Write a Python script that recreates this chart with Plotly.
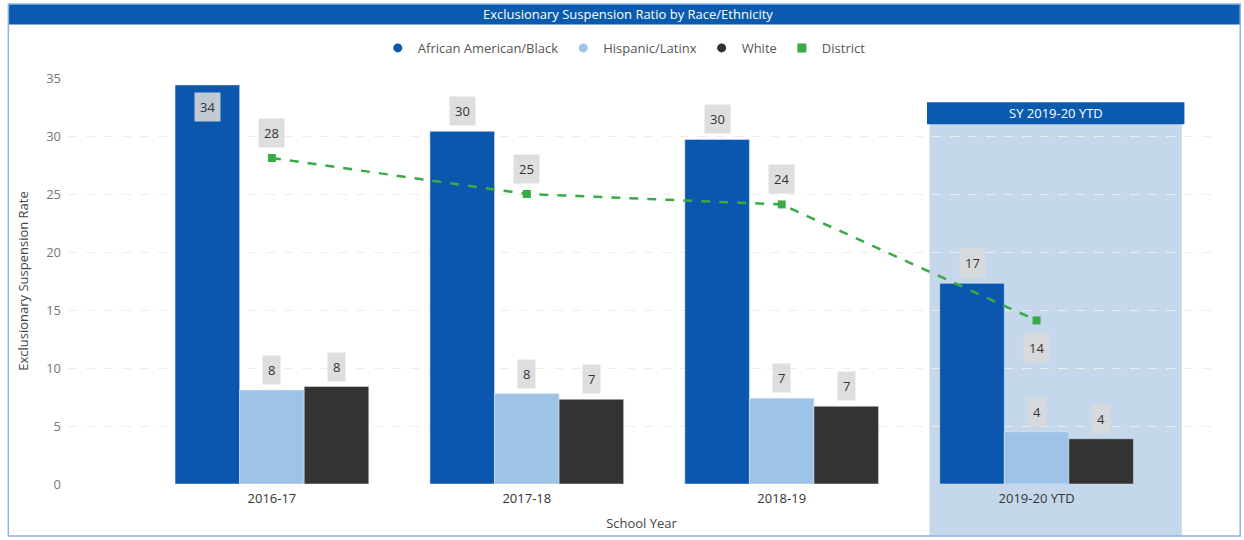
import plotly.graph_objects as go

# data
school_years = ["2016-17", "2017-18", "2018-19", "2019-20 YTD"]
black_rate = [34.4, 30.4, 29.7, 17.3]
hispanic_rate = [8.1, 7.8, 7.4, 4.5]
white_rate = [8.4, 7.3, 6.7, 3.9]
district_rate = [28.1, 25.0, 24.1, 14.1]

BLUE = "#0B57AE"
LIGHT_BLUE = "#9DC3E6"
DARK = "#333333"
GREEN = "#3AAA46"
FONT = "Open Sans"

BARGAP = 0.24
bar_w = (1 - BARGAP) / 3

fig = go.Figure()

series = [
    ("African American/Black", black_rate, BLUE),
    ("Hispanic/Latinx", hispanic_rate, LIGHT_BLUE),
    ("White", white_rate, DARK),
]
for name, vals, color in series:
    fig.add_trace(go.Bar(x=school_years, y=vals, name=name, marker_color=color,
                         showlegend=False, hoverinfo="x+y+name"))

fig.add_trace(go.Scatter(
    x=school_years, y=district_rate, name="District", mode="lines+markers",
    line=dict(color=GREEN, width=2.5, dash="dash"),
    marker=dict(color=GREEN, symbol="square", size=8), showlegend=False,
))

# legend-only entries to get the round/square keys
for name, _, color in series:
    fig.add_trace(go.Scatter(x=[None], y=[None], mode="markers", name=name,
                             marker=dict(color=color, size=9, symbol="circle")))
fig.add_trace(go.Scatter(x=[None], y=[None], mode="markers", name="District",
                         marker=dict(color=GREEN, size=9, symbol="square")))

# value labels in grey boxes
label_style = dict(showarrow=False, bgcolor="rgba(218,218,218,0.88)", borderpad=5,
                   font=dict(family=FONT, size=13, color="#333333"))
for k, (name, vals, color) in enumerate(series):
    for i, v in enumerate(vals):
        x = i + (k - 1) * bar_w
        if v > 33:
            fig.add_annotation(x=x, y=v, text=f"{round(v)}", yanchor="top", yshift=-7, **label_style)
        else:
            fig.add_annotation(x=x, y=v, text=f"{round(v)}", yanchor="bottom", yshift=5, **label_style)
for i, v in enumerate(district_rate):
    if i == len(district_rate) - 1:
        fig.add_annotation(x=i, y=v, text=f"{round(v)}", yanchor="top", yshift=-13, **label_style)
    else:
        fig.add_annotation(x=i, y=v, text=f"{round(v)}", yanchor="bottom", yshift=10, **label_style)

# highlighted current year panel
fig.add_shape(type="rect", xref="x", yref="paper", x0=2.58, x1=3.57, y0=-0.128, y1=0.887,
              fillcolor="#C5D8EB", line_width=0, layer="between")
fig.add_shape(type="rect", xref="x", yref="paper", x0=2.57, x1=3.58, y0=0.886, y1=0.94,
              fillcolor="#0A5BB0", line_width=0, layer="below")
fig.add_annotation(x=3.075, y=0.913, xref="x", yref="paper", text="SY 2019-20 YTD",
                   xanchor="center", yanchor="middle", showarrow=False,
                   font=dict(family=FONT, size=13, color="white"))

# title bar and outer frame
fig.add_shape(type="rect", xref="paper", yref="paper", x0=-0.052, x1=1.022, y0=1.132, y1=1.182,
              fillcolor="#0A5BB0", line_width=0, layer="below")
fig.add_annotation(x=0.488, y=1.157, xref="paper", yref="paper",
                   text="Exclusionary Suspension Ratio by Race/Ethnicity", showarrow=False,
                   xanchor="center", yanchor="middle",
                   font=dict(family=FONT, size=13, color="white"))
fig.add_shape(type="rect", xref="paper", yref="paper", x0=-0.052, x1=1.022, y0=-0.128, y1=1.182,
              line=dict(color="#8DB4E2", width=1.5), fillcolor="rgba(0,0,0,0)", layer="below")

fig.update_layout(
    width=1244, height=540,
    margin=dict(l=68, r=29, t=78, b=56),
    paper_bgcolor="white", plot_bgcolor="rgba(0,0,0,0)",
    barmode="group", bargap=BARGAP, bargroupgap=0,
    font=dict(family=FONT, size=13, color="#555555"),
    legend=dict(orientation="h", x=0.485, xanchor="center", y=1.074, yanchor="middle",
                font=dict(family=FONT, size=13, color="#555555"), itemwidth=30,
                tracegroupgap=0, bgcolor="rgba(0,0,0,0)"),
    xaxis=dict(range=[-0.8, 3.7], showgrid=False, zeroline=False, showline=False,
               ticks="", automargin=False, ticklabelstandoff=5,
               tickfont=dict(size=13, color="#333333"),
               title=dict(text="School Year", font=dict(size=13, color="#444444"), standoff=12)),
    yaxis=dict(range=[0, 35], dtick=5, gridcolor="#EDEDED", griddash="dash", zeroline=False,
               showline=False, automargin=False, ticklabelstandoff=6,
               tickfont=dict(size=13, color="#777777"),
               title=dict(text="Exclusionary Suspension Rate",
                          font=dict(size=13, color="#444444"), standoff=14)),
)

fig.write_html("out.html", config={"displayModeBar": False},
               post_script="document.body.style.margin='0';")
